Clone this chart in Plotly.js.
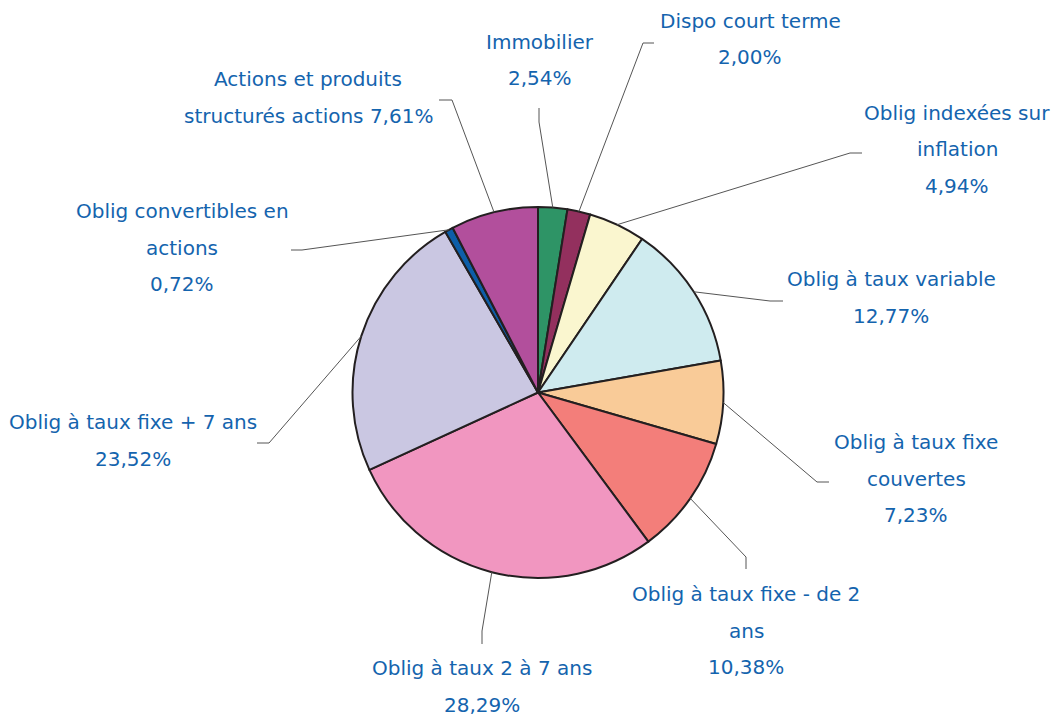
<!DOCTYPE html>
<html>
<head>
<meta charset="utf-8">
<script src="https://cdn.plot.ly/plotly-3.0.1.min.js"></script>
<style>
html,body{margin:0;padding:0;background:#fff;}
#chart{width:1051px;height:717px;}
</style>
</head>
<body>
<div id="chart"></div>
<script>
// ---- Data ----
var categories = [
  "Immobilier",
  "Dispo court terme",
  "Oblig indexées sur inflation",
  "Oblig à taux variable",
  "Oblig à taux fixe couvertes",
  "Oblig à taux fixe - de 2 ans",
  "Oblig à taux 2 à 7 ans",
  "Oblig à taux fixe + 7 ans",
  "Oblig convertibles en actions",
  "Actions et produits structurés actions"
];
var values = [2.54, 2.00, 4.94, 12.77, 7.23, 10.38, 28.29, 23.52, 0.72, 7.61];

// Text layout of labels ({v} = formatted value)
var labelLines = [
  ["Immobilier", "{v}"],
  ["Dispo court terme", "{v}"],
  ["Oblig indexées sur", "inflation", "{v}"],
  ["Oblig à taux variable", "{v}"],
  ["Oblig à taux fixe", "couvertes", "{v}"],
  ["Oblig à taux fixe - de 2", "ans", "{v}"],
  ["Oblig à taux 2 à 7 ans", "{v}"],
  ["Oblig à taux fixe + 7 ans", "{v}"],
  ["Oblig convertibles en", "actions", "{v}"],
  ["Actions et produits", "structurés actions {v}"]
];

// ---- Styles / layout (pixels) ----
var colors = ["#2E9466", "#93305E", "#FAF6CF", "#CFEBEF", "#F9CB98",
              "#F37E7A", "#F196C0", "#CAC7E2", "#0D5EA8", "#B24F9C"];
var W = 1051, H = 717;
var cx = 538, cy = 392.5, R = 185.5;
var labelX  = [540, 750, 957, 891, 916, 746, 482, 133, 182, 308];
var labelY0 = [42, 21, 113, 279, 442, 594, 668, 422, 211, 79];
var lineGap = 36.5;
var elbowPx = [[539,122],[643,43],[850,153],[770,301],[817,482],[746,557],[482,631],[269,443],[302,250],[452,100]];
var endPx   = [[539,108],[654,43],[862,153],[783,301],[829,482],[746,569],[482,644],[257,443],[291,250],[439,100]];
var textColor = "#1464AE";
var fontFamily = "DejaVu Sans";
var fontSize = 20;

function fmt(v){ return v.toFixed(2).replace('.', ',') + '%'; }
function px2x(x){ return x / W; }
function px2y(y){ return 1 - y / H; }

var total = values.reduce(function(a,b){return a+b;}, 0);

var annotations = [];
var shapes = [];
var cum = 0;
for (var i = 0; i < values.length; i++) {
  var mid = (cum + values[i] / 2) / total;
  cum += values[i];
  var ang = mid * 2 * Math.PI; // clockwise from 12 o'clock
  var sx = cx + R * Math.sin(ang);
  var sy = cy - R * Math.cos(ang);
  var e = elbowPx[i], t = endPx[i];
  shapes.push({
    type: 'path', xref: 'paper', yref: 'paper',
    path: 'M ' + px2x(sx) + ' ' + px2y(sy) + ' L ' + px2x(e[0]) + ' ' + px2y(e[1]) + ' L ' + px2x(t[0]) + ' ' + px2y(t[1]),
    line: {color: '#555555', width: 1}
  });
  var lines = labelLines[i];
  for (var k = 0; k < lines.length; k++) {
    annotations.push({
      xref: 'paper', yref: 'paper',
      x: px2x(labelX[i]), y: px2y(labelY0[i] + k * lineGap),
      xanchor: 'center', yanchor: 'middle',
      text: lines[k].replace('{v}', fmt(values[i])),
      showarrow: false,
      font: {family: fontFamily, size: fontSize, color: textColor}
    });
  }
}

var trace = {
  type: 'pie',
  labels: categories,
  values: values,
  sort: false,
  direction: 'clockwise',
  rotation: 0,
  textinfo: 'none',
  hoverinfo: 'label+percent',
  marker: {colors: colors, line: {color: '#231F20', width: 2}},
  domain: {
    x: [px2x(cx - R), px2x(cx + R)],
    y: [px2y(cy + R), px2y(cy - R)]
  },
  showlegend: false
};

var layout = {
  width: W, height: H,
  margin: {l: 0, r: 0, t: 0, b: 0},
  paper_bgcolor: '#ffffff',
  plot_bgcolor: '#ffffff',
  showlegend: false,
  annotations: annotations,
  shapes: shapes
};

Plotly.newPlot('chart', [trace], layout, {displayModeBar: false, staticPlot: true});
</script>
</body>
</html>
